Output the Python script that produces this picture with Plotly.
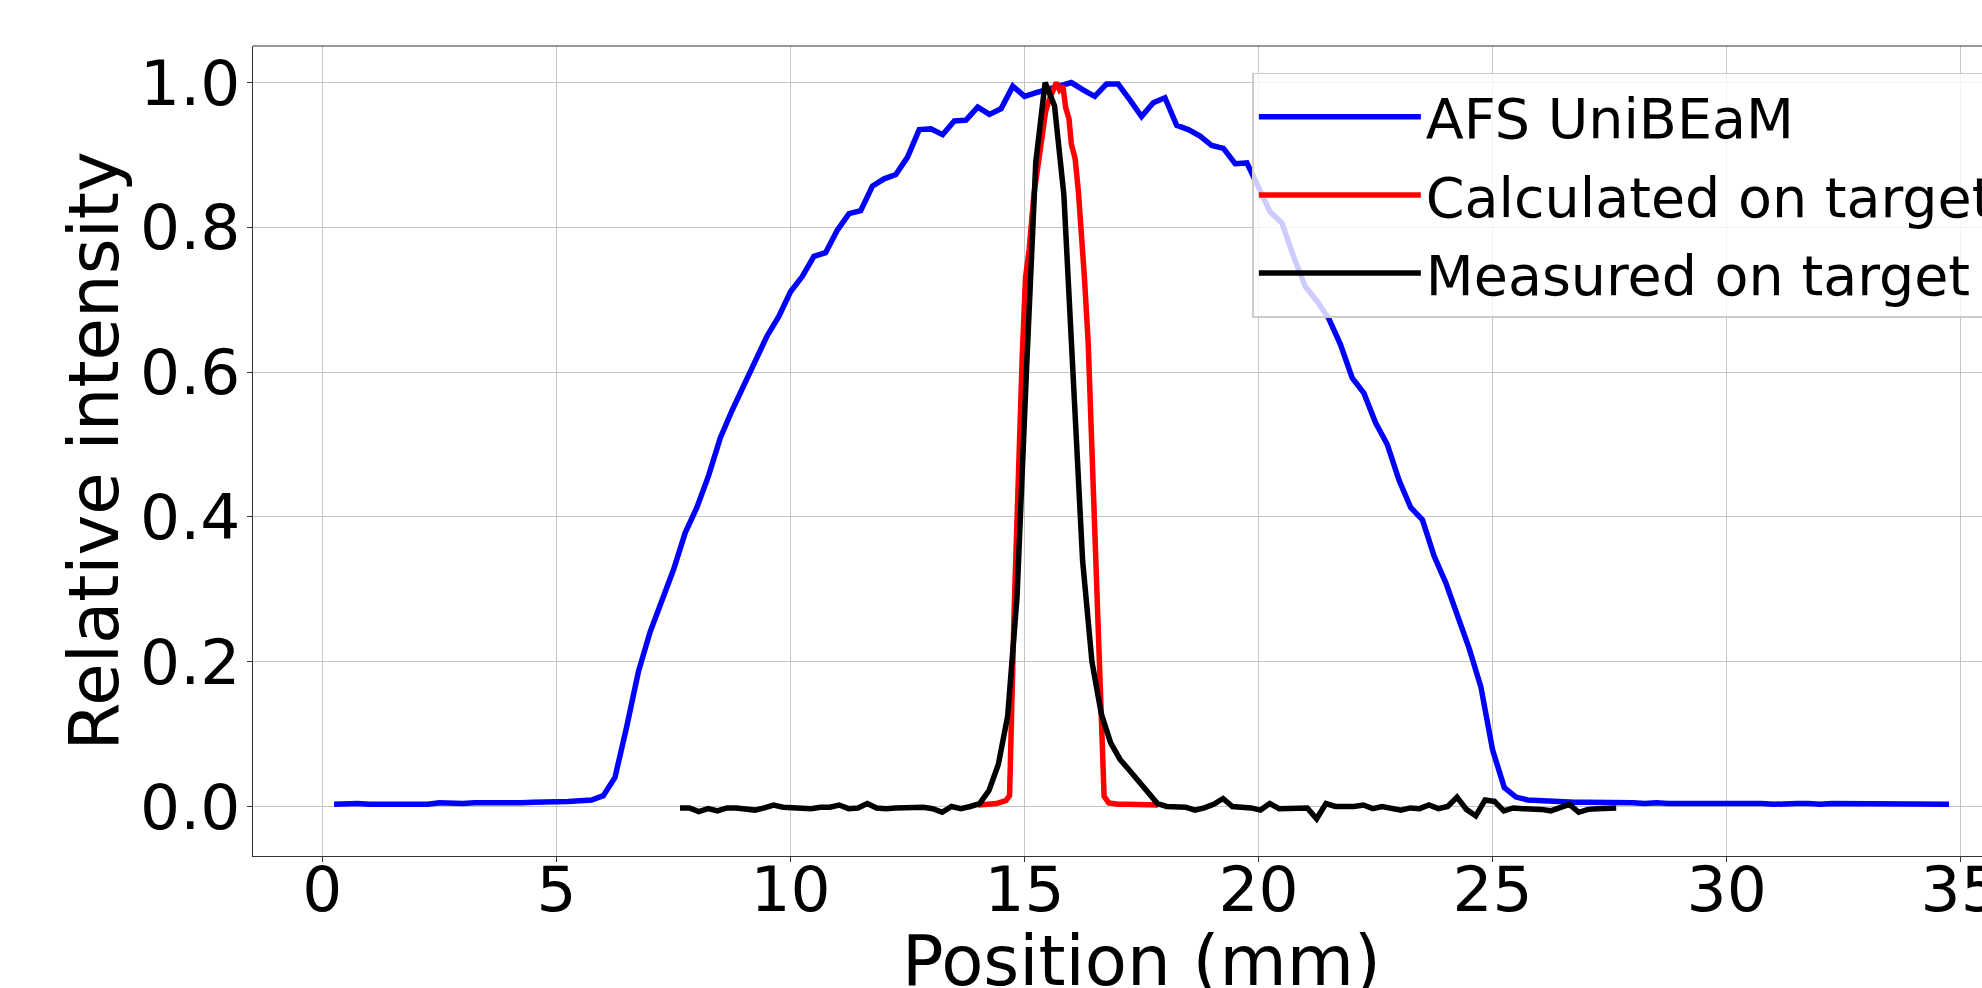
import plotly.graph_objects as go

# ---------------- data ----------------
# AFS UniBEaM profile, sampled every 0.25 mm from 0.25 to 34.75 mm
afs_x = [round(0.25 * i, 2) for i in range(1, 140)]
afs_y = [
    0.003, 0.004, 0.004, 0.003, 0.003, 0.004, 0.003, 0.004, 0.003, 0.005,   # 0.25 - 2.5
    0.004, 0.004, 0.005, 0.005, 0.004, 0.005, 0.005, 0.006, 0.006, 0.006,   # 2.75 - 5.0
    0.007, 0.008, 0.009, 0.015, 0.040, 0.110, 0.186, 0.241, 0.282, 0.327,   # 5.25 - 7.5
    0.378, 0.413, 0.457, 0.509, 0.547, 0.581, 0.619, 0.650, 0.677, 0.711,   # 7.75 - 10.0
    0.732, 0.760, 0.765, 0.796, 0.819, 0.823, 0.857, 0.867, 0.873, 0.897,   # 10.25 - 12.5
    0.935, 0.936, 0.928, 0.947, 0.948, 0.966, 0.956, 0.964, 0.995, 0.981,   # 12.75 - 15.0
    0.986, 0.991, 0.995, 1.000, 0.990, 0.981, 0.998, 0.998, 0.976, 0.953,   # 15.25 - 17.5
    0.972, 0.979, 0.941, 0.935, 0.926, 0.913, 0.909, 0.888, 0.889, 0.856,   # 17.75 - 20.0
    0.821, 0.806, 0.759, 0.718, 0.698, 0.674, 0.638, 0.592, 0.571, 0.530,   # 20.25 - 22.5
    0.500, 0.451, 0.413, 0.396, 0.346, 0.309, 0.265, 0.218, 0.165, 0.078,   # 22.75 - 25.0
    0.026, 0.013, 0.009, 0.008, 0.007, 0.007, 0.006, 0.006, 0.006, 0.005,   # 25.25 - 27.5
    0.005, 0.005, 0.004, 0.005, 0.004, 0.004, 0.004, 0.005, 0.004, 0.004,   # 27.75 - 30.0
    0.004, 0.005, 0.004, 0.003, 0.004, 0.004, 0.004, 0.003, 0.004, 0.004,   # 30.25 - 32.5
    0.004, 0.003, 0.004, 0.004, 0.003, 0.004, 0.003, 0.003, 0.003,          # 32.75 - 34.75
]

# Calculated profile on target
calc_x = [14.00, 14.20, 14.40, 14.60, 14.68, 14.78, 14.84, 14.95, 15.02, 15.10,
          15.20, 15.30, 15.37, 15.45, 15.52, 15.60, 15.68, 15.75, 15.82, 15.88,
          15.95, 16.00, 16.08, 16.15, 16.21, 16.28, 16.36, 16.45, 16.55, 16.63,
          16.70, 16.80, 17.00, 17.20, 17.40, 17.60, 17.85]
calc_y = [0.002, 0.003, 0.004, 0.008, 0.015, 0.275, 0.410, 0.620, 0.730, 0.770,
          0.845, 0.890, 0.930, 0.960, 0.975, 0.990, 1.000, 0.990, 0.995, 0.965,
          0.950, 0.915, 0.895, 0.850, 0.800, 0.730, 0.640, 0.470, 0.310, 0.140,
          0.014, 0.005, 0.003, 0.003, 0.003, 0.002, 0.002]

# Measured profile on target, sampled every 0.2 mm from 7.64 to 27.64 mm
meas_x = [round(7.64 + 0.2 * i, 2) for i in range(101)]
meas_y = [
    -0.002, -0.002, -0.007, -0.003, -0.006, -0.002, -0.002, -0.004, -0.005, -0.002,
    0.002, -0.001, -0.002, -0.003, -0.003, -0.001, -0.001, 0.002, -0.003, -0.002,
    0.004, -0.002, -0.003, -0.002, -0.002, -0.001, -0.001, -0.003, -0.008, 0.000,
    -0.003, 0.000, 0.004, 0.022, 0.058, 0.125, 0.290, 0.600, 0.890, 1.000,
    0.968, 0.845, 0.600, 0.340, 0.200, 0.128, 0.088, 0.065, 0.050, 0.035,
    0.020, 0.004, 0.000, -0.001, -0.001, -0.005, -0.002, 0.003, 0.011, 0.000,
    -0.001, -0.002, -0.005, 0.004, -0.003, -0.003, -0.003, -0.002, -0.017, 0.004,
    0.000, 0.000, 0.000, 0.002, -0.003, 0.000, -0.003, -0.005, -0.002, -0.003,
    0.002, -0.003, 0.000, 0.013, -0.004, -0.013, 0.009, 0.007, -0.006, -0.002,
    -0.003, -0.003, -0.004, -0.006, -0.002, 0.003, -0.008, -0.004, -0.003, -0.003,
    -0.002,
]

series_names = ["AFS UniBEaM", "Calculated on target", "Measured on target"]
x_ticks = [0, 5, 10, 15, 20, 25, 30, 35]
y_ticks = [0.0, 0.2, 0.4, 0.6, 0.8, 1.0]
x_title = "Position (mm)"
y_title = "Relative intensity"

# ---------------- figure ----------------
FONT = "DejaVu Sans"
LW = 5.5

fig = go.Figure()
fig.add_trace(go.Scatter(x=afs_x, y=afs_y, mode="lines", name=series_names[0],
                         line=dict(color="#0000ff", width=LW), legendgroup="a"))
fig.add_trace(go.Scatter(x=calc_x, y=calc_y, mode="lines", name=series_names[1],
                         line=dict(color="#ff0000", width=LW), legendgroup="b"))
fig.add_trace(go.Scatter(x=meas_x, y=meas_y, mode="lines", name=series_names[2],
                         line=dict(color="#000000", width=LW), legendgroup="c"))

W, H = 1982, 988
L, R, T, B = 253, 0, 46, 132

fig.update_layout(
    width=W, height=H,
    margin=dict(l=L, r=R, t=T, b=B, pad=0, autoexpand=False),
    paper_bgcolor="white", plot_bgcolor="white",
    font=dict(family=FONT, color="black"),
    showlegend=True,
    legend=dict(
        x=0.578, y=0.967, xanchor="left", yanchor="top",
        bgcolor="rgba(255,255,255,0.8)", bordercolor="#cccccc", borderwidth=1.5,
        font=dict(family=FONT, size=55.5, color="black"),
        itemwidth=162, tracegroupgap=3,
    ),
    xaxis=dict(
        range=[-1.483, 35.455], tickvals=x_ticks, ticktext=[str(v) for v in x_ticks],
        showgrid=True, gridcolor="#c4c4c4", gridwidth=1.1, zeroline=False,
        showline=True, linecolor="#333333", linewidth=1.2, mirror=False,
        ticks="outside", ticklen=5, tickwidth=1.2, tickcolor="#333333",
        tickfont=dict(family=FONT, size=63, color="black"),
        ticklabeloverflow="allow", ticklabelstandoff=-27, automargin=False,
    ),
    yaxis=dict(
        range=[-0.0684, 1.0505], tickvals=y_ticks, ticktext=[f"{v:.1f}" for v in y_ticks],
        showgrid=True, gridcolor="#c4c4c4", gridwidth=1.1, zeroline=False,
        showline=True, linecolor="#333333", linewidth=1.2, mirror=False,
        ticks="outside", ticklen=5, tickwidth=1.2, tickcolor="#333333",
        tickfont=dict(family=FONT, size=63, color="black"),
        ticklabeloverflow="allow", ticklabelstandoff=-6, automargin=False,
    ),
    shapes=[dict(type="line", xref="paper", yref="paper", x0=0, x1=1, y0=1, y1=1,
                 line=dict(color="#333333", width=1.2))],
    annotations=[
        dict(text=y_title, xref="paper", yref="paper", x=-0.0922, y=0.5,
             xanchor="center", yanchor="middle", textangle=-90, showarrow=False,
             font=dict(family=FONT, size=69, color="black")),
        dict(text=x_title, xref="paper", yref="paper", x=0.514, y=-0.1296,
             xanchor="center", yanchor="middle", showarrow=False,
             font=dict(family=FONT, size=69, color="black")),
    ],
)

fig.write_html(
    "out.html",
    config={"displayModeBar": False},
    post_script="document.body.style.margin='0';document.body.style.overflow='hidden';",
)
